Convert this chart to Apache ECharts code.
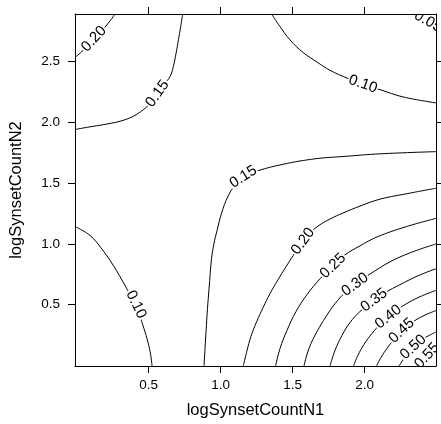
<!DOCTYPE html>
<html>
<head>
<meta charset="utf-8">
<script src="https://cdn.jsdelivr.net/npm/echarts@6/dist/echarts.min.js"></script>
<style>
html, body { margin: 0; padding: 0; background: #fff; }
#chart { width: 441px; height: 424px; }
</style>
</head>
<body>
<div id="chart"></div>
<script>
// axis ranges and ticks
const xRange = [-0.012, 2.495];
const yRange = [-0.005, 2.89];
const xTicks = [0.5, 1.0, 1.5, 2.0];
const yTicks = [0.5, 1.0, 1.5, 2.0, 2.5];

// contour paths, [logSynsetCountN1, logSynsetCountN2]
const c05 = [[2.335, 2.890], [2.384, 2.866], [2.440, 2.828], [2.495, 2.791]];
const c10Low = [[-0.012, 1.142], [0.092, 1.069], [0.174, 0.958], [0.254, 0.822], [0.335, 0.658], [0.391, 0.533], [0.433, 0.418], [0.467, 0.303], [0.495, 0.189], [0.513, 0.091], [0.523, -0.005]];
const c10High = [[1.353, 2.890], [1.412, 2.786], [1.481, 2.677], [1.572, 2.574], [1.676, 2.489], [1.759, 2.427], [1.877, 2.363], [1.988, 2.313], [2.106, 2.268], [2.266, 2.208], [2.495, 2.159]];
const c15Top = [[-0.012, 1.940], [0.092, 1.962], [0.185, 1.980], [0.301, 2.008], [0.393, 2.049], [0.463, 2.104], [0.516, 2.161], [0.561, 2.235], [0.606, 2.309], [0.648, 2.376], [0.671, 2.458], [0.690, 2.568], [0.706, 2.677], [0.722, 2.786], [0.736, 2.890]];
const c15Mid = [[0.884, -0.005], [0.891, 0.140], [0.898, 0.279], [0.908, 0.467], [0.919, 0.631], [0.936, 0.877], [0.953, 1.001], [0.974, 1.107], [1.006, 1.253], [1.051, 1.392], [1.100, 1.482], [1.162, 1.552], [1.259, 1.601], [1.433, 1.654], [1.655, 1.699], [1.863, 1.719], [2.106, 1.740], [2.495, 1.758]];
const c20Top = [[-0.012, 2.532], [0.044, 2.591], [0.120, 2.685], [0.203, 2.791], [0.266, 2.890]];
const c20Mid = [[1.157, -0.005], [1.183, 0.124], [1.210, 0.238], [1.250, 0.361], [1.294, 0.475], [1.342, 0.590], [1.398, 0.705], [1.453, 0.811], [1.502, 0.901], [1.558, 0.999], [1.613, 1.081], [1.676, 1.146], [1.759, 1.204], [1.849, 1.253], [1.967, 1.310], [2.106, 1.367], [2.315, 1.417], [2.495, 1.457]];
const c25 = [[1.381, -0.005], [1.412, 0.140], [1.460, 0.287], [1.523, 0.443], [1.599, 0.582], [1.690, 0.713], [1.780, 0.819], [1.863, 0.909], [1.967, 0.983], [2.085, 1.056], [2.280, 1.138], [2.495, 1.209]];
const c30 = [[1.578, -0.005], [1.613, 0.140], [1.669, 0.279], [1.731, 0.401], [1.794, 0.508], [1.863, 0.598], [1.967, 0.696], [2.072, 0.778], [2.176, 0.852], [2.315, 0.926], [2.495, 0.999]];
const c35 = [[1.759, -0.005], [1.794, 0.124], [1.842, 0.246], [1.898, 0.353], [1.967, 0.443], [2.051, 0.525], [2.141, 0.598], [2.245, 0.664], [2.370, 0.737], [2.495, 0.795]];
const c40 = [[1.922, -0.005], [1.953, 0.083], [1.995, 0.173], [2.051, 0.263], [2.113, 0.345], [2.190, 0.426], [2.280, 0.500], [2.384, 0.565], [2.495, 0.617]];
const c45 = [[2.082, -0.005], [2.113, 0.066], [2.155, 0.140], [2.203, 0.214], [2.259, 0.287], [2.328, 0.353], [2.412, 0.410], [2.495, 0.451]];
const c50 = [[2.238, -0.005], [2.273, 0.058], [2.308, 0.115], [2.349, 0.164], [2.399, 0.214], [2.447, 0.246], [2.495, 0.275]];
const c55 = [[2.370, -0.005], [2.412, 0.050], [2.454, 0.107], [2.495, 0.156]];

const contours = [c05, c10Low, c10High, c15Top, c15Mid, c20Top, c20Mid, c25, c30, c35, c40, c45, c50, c55];

// contour labels: text, where it sits, which path it belongs to
const labelText = ['0.05', '0.10', '0.10', '0.15', '0.15', '0.20', '0.20', '0.25', '0.30', '0.35', '0.40', '0.45', '0.50', '0.55'];
const labelAt = [[2.440, 2.828], [0.412, 0.500], [1.988, 2.313], [0.561, 2.235], [1.157, 1.550], [0.120, 2.685], [1.572, 1.020], [1.780, 0.819], [1.933, 0.664], [2.065, 0.536], [2.164, 0.399], [2.257, 0.285], [2.337, 0.150], [2.433, 0.079]];
const labelOn = [0, 1, 2, 3, 4, 5, 6, 7, 8, 9, 10, 11, 12, 13];

const fontFamily = 'Liberation Sans, Arial, sans-serif';
const chart = echarts.init(document.getElementById('chart'));

function axisCommon(ticks, range) {
  return {
    type: 'value',
    min: range[0],
    max: range[1],
    z: 5,
    axisLine: { show: true, onZero: false, lineStyle: { color: '#000', width: 1 } },
    axisTick: { show: true, inside: false, length: 7, customValues: ticks, lineStyle: { color: '#000', width: 1 } },
    splitLine: { show: false }
  };
}

function renderLabel(params, api) {
  const i = params.dataIndex;
  const p = api.coord([api.value(0), api.value(1)]);
  const pts = contours[labelOn[i]].map(d => api.coord(d));
  let k = 0, best = Infinity;
  pts.forEach((q, j) => {
    const d = (q[0] - p[0]) ** 2 + (q[1] - p[1]) ** 2;
    if (d < best) { best = d; k = j; }
  });
  const a = pts[Math.max(k - 1, 0)];
  const b = pts[Math.min(k + 1, pts.length - 1)];
  let dx = b[0] - a[0], dy = b[1] - a[1];
  if (dx < 0) { dx = -dx; dy = -dy; }
  return {
    type: 'text',
    x: p[0],
    y: p[1],
    rotation: Math.atan2(-dy, dx),
    style: {
      text: labelText[i],
      fill: '#000',
      font: '15px ' + fontFamily,
      align: 'center',
      verticalAlign: 'middle',
      textAlign: 'center',
      textVerticalAlign: 'middle',
      backgroundColor: '#fff',
      padding: [0, 1]
    }
  };
}

const series = contours.map(c => ({
  type: 'line',
  data: c,
  symbol: 'none',
  smooth: 0.4,
  clip: true,
  silent: true,
  z: 2,
  lineStyle: { color: '#000', width: 1 }
}));

series.push({
  type: 'custom',
  clip: true,
  z: 3,
  silent: true,
  data: labelAt.map((p, i) => [p[0], p[1], i]),
  renderItem: renderLabel
});

chart.setOption({
  animation: false,
  backgroundColor: '#fff',
  grid: { left: 75, top: 14, width: 361, height: 354, show: false },
  xAxis: [
    Object.assign(axisCommon(xTicks, xRange), {
      position: 'bottom',
      name: 'logSynsetCountN1',
      nameLocation: 'middle',
      nameGap: 36,
      nameTextStyle: { color: '#000', fontSize: 16.5, fontFamily: fontFamily },
      axisLabel: { show: true, customValues: xTicks, margin: 12, color: '#000', fontSize: 13.5, fontFamily: fontFamily, formatter: v => v.toFixed(1) }
    }),
    Object.assign(axisCommon(xTicks, xRange), {
      position: 'top',
      axisLabel: { show: false }
    })
  ],
  yAxis: [
    Object.assign(axisCommon(yTicks, yRange), {
      position: 'left',
      name: 'logSynsetCountN2',
      nameLocation: 'middle',
      nameGap: 50,
      nameRotate: 90,
      nameTextStyle: { color: '#000', fontSize: 16.5, fontFamily: fontFamily },
      axisLabel: { show: true, customValues: yTicks, margin: 15, color: '#000', fontSize: 13.5, fontFamily: fontFamily, formatter: v => v.toFixed(1) }
    }),
    Object.assign(axisCommon(yTicks, yRange), {
      position: 'right',
      axisLabel: { show: false }
    })
  ],
  series: series
});
</script>
</body>
</html>
